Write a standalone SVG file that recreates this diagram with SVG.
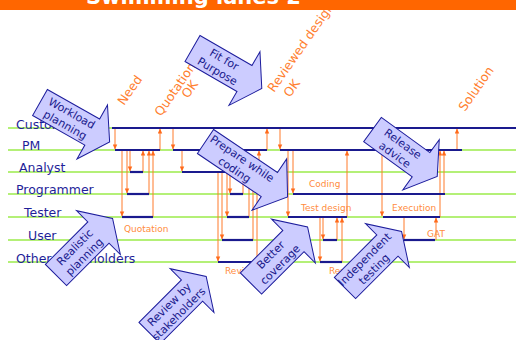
<svg xmlns="http://www.w3.org/2000/svg" width="516" height="340" viewBox="0 0 516 340">
<defs>
<style>
.lane{stroke:#9BEB4A;stroke-width:1.6}
.seg{stroke:#1A1A8E;stroke-width:2.2}
.con{stroke:#FF7A2A;stroke-width:1;fill:none;marker-end:url(#ah)}
.lbl{font-family:'DejaVu Sans',Verdana,sans-serif;font-size:12.5px;fill:#1F1F99}
.ol{font-family:'DejaVu Sans',Verdana,sans-serif;font-size:9px;fill:#FF8C40}
.rl{font-family:'DejaVu Sans',Verdana,sans-serif;font-size:12.5px;fill:#FF8030}
.ba use,.ba polygon{fill:#CCCCFF;stroke:#1C1C9C;stroke-width:1}
.ba text{font-family:'DejaVu Sans',Verdana,sans-serif;font-size:11px;fill:#1A1A8C;stroke:none;text-anchor:middle}
</style>
<marker id="ah" viewBox="0 0 6 6" refX="5.5" refY="3" markerWidth="5" markerHeight="5" markerUnits="userSpaceOnUse" orient="auto">
<path d="M0,0.3 L6,3 L0,5.7 z" fill="#FF6A1A"/>
</marker>
<polygon id="arr" points="0,-15 60,-15 60,-31 80,0 60,31 60,15 0,15"/>
</defs>

<g id="lanes">
<line class="lane" x1="8" y1="128" x2="516" y2="128"/>
<line class="lane" x1="8" y1="150" x2="516" y2="150"/>
<line class="lane" x1="8" y1="172" x2="516" y2="172"/>
<line class="lane" x1="8" y1="194" x2="516" y2="194"/>
<line class="lane" x1="8" y1="217" x2="516" y2="217"/>
<line class="lane" x1="8" y1="240" x2="516" y2="240"/>
<line class="lane" x1="8" y1="262" x2="516" y2="262"/>
</g>

<g id="milestones">
<text class="rl" transform="translate(124,106) rotate(-55)">Need</text>
<text class="rl" transform="translate(161,117) rotate(-55)">Quotation</text>
<text class="rl" transform="translate(188,99) rotate(-55)">OK</text>
<text class="rl" transform="translate(274,93) rotate(-55)">Reviewed design</text>
<text class="rl" transform="translate(290,98) rotate(-55)">OK</text>
<text class="rl" transform="translate(465,112) rotate(-55)">Solution</text>
</g>

<g id="title">
<rect x="0" y="0" width="516" height="10" fill="#FF6600"/>
<text x="86" y="3.5" font-family="'DejaVu Sans',Verdana,sans-serif" font-size="21" font-weight="bold" fill="#FFFFFF">Swimming lanes 2</text>
</g>

<g id="connectors">
<line class="con" x1="115" y1="128" x2="115" y2="149"/>
<line class="con" x1="130" y1="150" x2="130" y2="171"/>
<line class="con" x1="127" y1="150" x2="127" y2="193"/>
<line class="con" x1="122" y1="150" x2="122" y2="216"/>
<line class="con" x1="143" y1="172" x2="143" y2="151"/>
<line class="con" x1="149" y1="194" x2="149" y2="151"/>
<line class="con" x1="153" y1="217" x2="153" y2="151"/>
<line class="con" x1="160" y1="150" x2="160" y2="129"/>
<line class="con" x1="173" y1="128" x2="173" y2="149"/>
<line class="con" x1="182" y1="150" x2="182" y2="171"/>
<line class="con" x1="230" y1="172" x2="230" y2="193"/>
<line class="con" x1="227" y1="172" x2="227" y2="216"/>
<line class="con" x1="222" y1="172" x2="222" y2="239"/>
<line class="con" x1="218" y1="172" x2="218" y2="261"/>
<line class="con" x1="243" y1="194" x2="243" y2="173"/>
<line class="con" x1="249" y1="217" x2="249" y2="173"/>
<line class="con" x1="253" y1="240" x2="253" y2="173"/>
<line class="con" x1="257" y1="262" x2="257" y2="173"/>
<line class="con" x1="259" y1="172" x2="259" y2="151"/>
<line class="con" x1="267" y1="150" x2="267" y2="129"/>
<line class="con" x1="280" y1="128" x2="280" y2="149"/>
<line class="con" x1="293" y1="150" x2="293" y2="193"/>
<line class="con" x1="288" y1="150" x2="288" y2="216"/>
<line class="con" x1="323" y1="217" x2="323" y2="239"/>
<line class="con" x1="320" y1="217" x2="320" y2="261"/>
<line class="con" x1="337" y1="240" x2="337" y2="218"/>
<line class="con" x1="342" y1="262" x2="342" y2="218"/>
<line class="con" x1="347" y1="217" x2="347" y2="151"/>
<line class="con" x1="382" y1="150" x2="382" y2="216"/>
<line class="con" x1="404" y1="217" x2="404" y2="239"/>
<line class="con" x1="436" y1="240" x2="436" y2="218"/>
<line class="con" x1="440" y1="217" x2="440" y2="151"/>
<line class="con" x1="444" y1="194" x2="444" y2="151"/>
<line class="con" x1="457" y1="150" x2="457" y2="129"/>
</g>

<g id="segments">
<line class="seg" x1="112" y1="128" x2="516" y2="128"/>
<line class="seg" x1="115" y1="150" x2="160" y2="150"/>
<line class="seg" x1="173" y1="150" x2="267" y2="150"/>
<line class="seg" x1="280" y1="150" x2="462" y2="150"/>
<line class="seg" x1="130" y1="172" x2="143" y2="172"/>
<line class="seg" x1="182" y1="172" x2="259" y2="172"/>
<line class="seg" x1="127" y1="194" x2="149" y2="194"/>
<line class="seg" x1="230" y1="194" x2="243" y2="194"/>
<line class="seg" x1="293" y1="194" x2="445" y2="194"/>
<line class="seg" x1="122" y1="217" x2="153" y2="217"/>
<line class="seg" x1="227" y1="217" x2="249" y2="217"/>
<line class="seg" x1="288" y1="217" x2="347" y2="217"/>
<line class="seg" x1="383" y1="217" x2="440" y2="217"/>
<line class="seg" x1="222" y1="240" x2="253" y2="240"/>
<line class="seg" x1="323" y1="240" x2="337" y2="240"/>
<line class="seg" x1="404" y1="240" x2="435" y2="240"/>
<line class="seg" x1="218" y1="262" x2="258" y2="262"/>
<line class="seg" x1="320" y1="262" x2="342" y2="262"/>
</g>

<g id="lane-labels">
<text class="lbl" x="16" y="129">Customer</text>
<text class="lbl" x="22" y="150">PM</text>
<text class="lbl" x="19" y="172">Analyst</text>
<text class="lbl" x="16" y="194">Programmer</text>
<text class="lbl" x="24" y="216.5">Tester</text>
<text class="lbl" x="28" y="240">User</text>
<text class="lbl" x="16" y="262.5">Other stakeholders</text>
</g>

<g id="phase-labels">
<text class="ol" x="124" y="231.5">Quotation</text>
<text class="ol" x="309" y="186.5">Coding</text>
<text class="ol" x="301" y="211">Test design</text>
<text class="ol" x="392" y="211">Execution</text>
<text class="ol" x="427" y="236.5">GAT</text>
<text class="ol" x="225" y="274">Review</text>
<text class="ol" x="329" y="274">Review</text>
</g>

<g id="workload-planning" class="ba" transform="translate(40,102.5) rotate(29.5)">
<use href="#arr"/>
<text x="33" y="-2.5">Workload</text>
<text x="33" y="11">planning</text>
</g>
<g id="fit-for-purpose" class="ba" transform="translate(192.5,48.5) rotate(30)">
<use href="#arr"/>
<text x="33" y="-2.5">Fit for</text>
<text x="33" y="11">Purpose</text>
</g>
<g id="prepare-while-coding" class="ba" transform="translate(205.5,141.5) rotate(34)">
<polygon points="0,-14.5 77,-14.5 77,-31 99,0 77,31 77,14.5 0,14.5"/>
<text x="40" y="-2.5">Prepare while</text>
<text x="40" y="11">coding</text>
</g>
<g id="release-advice" class="ba" transform="translate(372.5,129.5) rotate(36)">
<use href="#arr"/>
<text x="33" y="-2.5">Release</text>
<text x="33" y="11">advice</text>
</g>
<g id="realistic-planning" class="ba" transform="translate(56,275) rotate(-45)">
<use href="#arr"/>
<text x="33" y="-2.5">Realistic</text>
<text x="33" y="11">planning</text>
</g>
<g id="review-by-stakeholders" class="ba" transform="translate(149.6,333) rotate(-45)">
<use href="#arr"/>
<text x="34" y="-2.5">Review by</text>
<text x="34" y="11">stakeholders</text>
</g>
<g id="better-coverage" class="ba" transform="translate(251,283.5) rotate(-45)">
<use href="#arr"/>
<text x="34" y="-2.5">Better</text>
<text x="34" y="11">coverage</text>
</g>
<g id="independent-testing" class="ba" transform="translate(345,288) rotate(-45)">
<use href="#arr"/>
<text x="34" y="-2.5">Independent</text>
<text x="34" y="11">testing</text>
</g>
</svg>
